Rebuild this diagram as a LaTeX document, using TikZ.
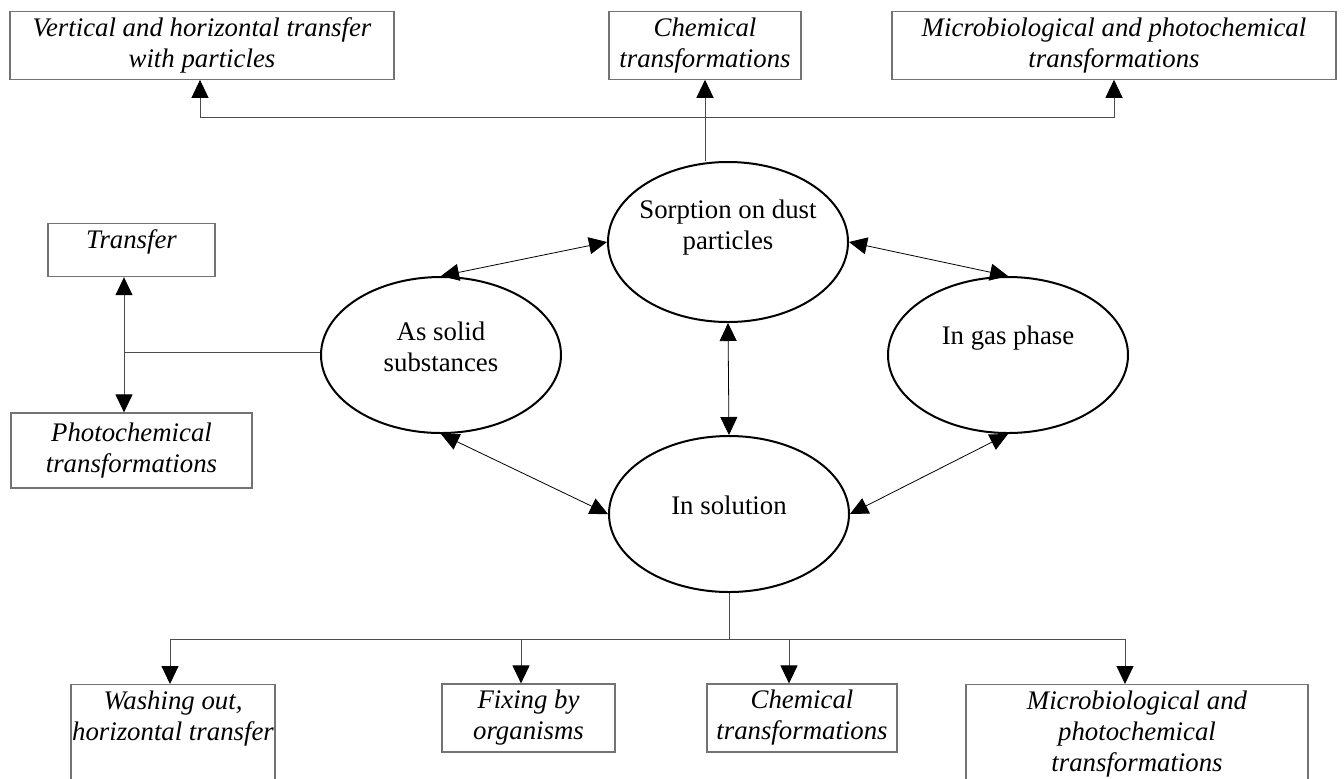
\documentclass[tikz,border=0pt]{standalone}
\usepackage{fontspec}
\setmainfont{Liberation Serif}
\usetikzlibrary{arrows.meta,shapes.geometric}
\newcommand{\boxtop}[3]{\parbox[c][#2][t]{#1}{\centering #3}}

\begin{document}
\begin{tikzpicture}[x=0.5pt,y=-0.5pt,>={Triangle[length=9pt,width=8.5pt,color=black]},
                    font=\fontsize{13.4}{15.5}\selectfont]
\tikzstyle{box}=[draw=black!55,line width=0.6pt,font=\fontsize{13.4}{15.5}\selectfont\itshape,
                 align=center,inner xsep=0.5pt,inner ysep=3pt]
\tikzstyle{ell}=[ellipse,draw,line width=1pt,minimum width=120pt,minimum height=78pt,inner sep=0pt]
\tikzstyle{txt}=[align=center,inner sep=0pt]
\tikzstyle{link}=[draw=black!70,line width=0.5pt]
\tikzstyle{swap}=[<->,line width=0.4pt]

\useasboundingbox (0,0) rectangle (1344,778);

% upper row
\node [box,minimum width=192pt,minimum height=33.5pt] (vert) at (202,45.5) {Vertical and horizontal transfer\\with particles};
\node [box,minimum width=96pt,minimum height=33.5pt] (chemtop) at (705,45.5) {Chemical\\transformations};
\node [box,minimum width=222pt,minimum height=33.5pt] (microtop) at (1114,45.5) {Microbiological and photochemical\\transformations};

% ellipses
\node [ell,minimum height=80pt] (sorp) at (728,242) {};
\node [ell] (solid) at (441,355) {};
\node [ell] (gas) at (1008,355) {};
\node [ell] (sol) at (729,514) {};
\node [txt] (sorptxt) at ([yshift=7pt]sorp.center) {Sorption on dust\\particles};
\node [txt] (solidtxt) at ([yshift=4pt]solid.center) {As solid\\substances};
\node [txt] (gastxt) at ([yshift=8.5pt]gas.center) {In gas phase};
\node [txt] (soltxt) at ([yshift=4.5pt]sol.center) {In solution};

% left side
\node [box,anchor=north] (transfer) at (131.5,223) {\boxtop{82.5pt}{20.5pt}{Transfer}};
\node [box,minimum width=120.5pt,minimum height=37.5pt] (photo) at (131.5,450.5) {Photochemical\\transformations};

% lower row
\node [box,anchor=north] (wash) at (173,684) {\boxtop{101pt}{60pt}{Washing out,\\horizontal transfer}};
\node [box,minimum width=86.5pt,minimum height=34pt] (fix) at (528.5,718) {Fixing by\\organisms};
\node [box,minimum width=95pt,minimum height=34pt] (chembot) at (802,718) {Chemical\\transformations};
\node [box,anchor=north] (microbot) at (1137,684) {\boxtop{170pt}{60pt}{Microbiological and\\photochemical\\transformations}};

\coordinate (u1) at (200,117);
\coordinate (u2) at (1114,117);
\coordinate (l1) at (124,352);
\coordinate (d1) at (170,639);
\coordinate (d2) at (521,639);
\coordinate (d3) at (789,639);
\coordinate (d4) at (1125,639);

% branches
\path[link,<->] (vert.south -| u1) -- (u1) -- (u2) -- (microtop.south -| u2);
\path[link,->] (sorp.north -| chemtop.south) -- (chemtop.south);
\path[link,<->] (transfer.south -| l1) -- (photo.north -| l1);
\path[link] (l1) -- (l1 -| solid.west);
\path[link] (sol.south) -- (sol.south |- d1);
\path[link] (d1) -- (d4);
\foreach \d/\b in {d1/wash,d2/fix,d3/chembot,d4/microbot}
  \path[link,->] (\d) -- (\d |- \b.north);

% exchanges between the forms
\draw[swap] (solid.north) -- (sorp.west);
\draw[swap] (sorp.east) -- (gas.north);
\draw[swap] (sorp.south) -- (sol.north);
\draw[swap] (solid.south) -- (sol.west);
\draw[swap] (sol.east) -- (gas.south);
\end{tikzpicture}
\end{document}
